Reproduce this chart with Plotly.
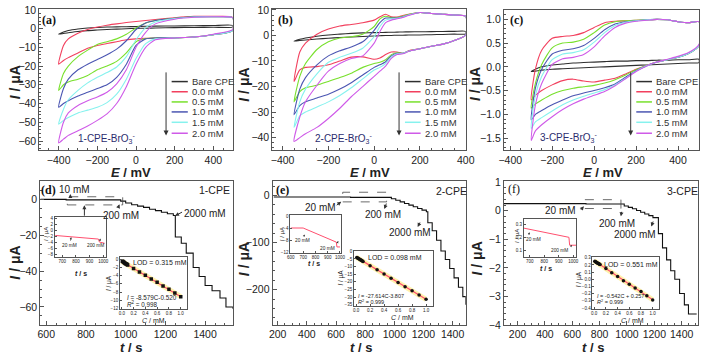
import plotly.graph_objects as go

W, H = 709, 359

# ---------------- (a) 1-CPE, cyclic voltammograms (E / mV, I / uA) ----------------
E_a = [-400, -375, -350, -300, -250, -200, -150, -100, -50, 0, 50, 100, 200, 300, 400, 500]
a_bare_up = [-3, -1.8, -1.0, -0.2, 0.3, 0.6, 0.8, 0.9, 1.0, 1.1, 1.2, 1.3, 1.4, 1.5, 1.6, 1.7]
a_bare_lo = [-3, -2.6, -2.2, -1.6, -1.1, -0.8, -0.5, -0.3, -0.1, 0.1, 0.2, 0.3, 0.5, 0.6, 0.7, 0.8]
a_00_up = [-19, -9, -5.5, -2.5, -0.5, 0.8, 1.8, 2.5, 3.2, 3.8, 4.3, 4.8, 5.8, 6.5, 6.5, 6.0]
a_00_lo = [-19, -17, -15.5, -13, -10.5, -9, -8, -7, -6, -5.5, -5.2, -5, -5, -4.5, -3.3, -1]
a_05_up = [-33, -24, -20, -15, -11.5, -8.5, -7, -5.5, -3, 0.3, 3, 4.3, 5.5, 6.3, 6.3, 5.8]
a_05_lo = [-33, -30, -28.5, -27, -25, -22, -20, -17.5, -13, -7, -5.3, -5, -5, -4.5, -3.3, -1]
a_10_up = [-42, -32, -27, -22, -19, -16.5, -14, -11, -6.5, -0.5, 3, 4.3, 5.5, 6.3, 6.3, 5.8]
a_10_lo = [-42, -40, -38.5, -36, -34, -32, -30, -26, -19, -9, -5.5, -5, -5, -4.5, -3.3, -1]
a_15_up = [-51, -43, -38, -33, -29, -26, -23.5, -20.5, -15, -6, 0.5, 3.5, 5.3, 6.2, 6.3, 5.8]
a_15_lo = [-51, -49, -47.5, -45, -43.5, -42, -39.5, -35, -27, -16, -8, -5.5, -5, -4.5, -3.3, -1]
a_20_up = [-61, -50, -45, -41, -38.5, -36.5, -34, -29.5, -22, -10, -2, 2.5, 5, 6, 6.3, 5.8]
a_20_lo = [-61, -59, -57, -54.5, -52, -49, -45.5, -40, -31, -19, -10, -6, -5, -4.5, -3, -0.5]

# ---------------- (b) 2-CPE ----------------
E_b = [-350, -325, -300, -250, -200, -150, -100, -50, 0, 25, 50, 75, 100, 125, 150, 200, 250, 300, 350, 400]
b_bare_up = [-2.2, -1.5, -1.0, -0.3, 0.2, 0.5, 0.8, 1.0, 1.1, 1.15, 1.2, 1.25, 1.3, 1.35, 1.4, 1.45, 1.5, 1.55, 1.6, 1.6]
b_bare_lo = [-2.2, -2.0, -1.8, -1.4, -1.1, -0.8, -0.6, -0.4, -0.2, -0.1, 0, 0, 0.1, 0.1, 0.15, 0.2, 0.3, 0.4, 0.5, 0.6]
b_00_up = [-18, -6.5, -3, 0.5, 2.5, 3.7, 4.3, 5, 6, 7.3, 8.3, 7.3, 7.2, 7.8, 8.3, 9, 8.6, 8.3, 8.0, 7.5]
b_00_lo = [-18, -13.5, -12.5, -12.2, -11.5, -10, -8.5, -8.4, -9.3, -8.8, -7.5, -6.5, -6.5, -7, -6, -5.2, -4.2, -3.4, -2, 0.2]
b_05_up = [-26, -16, -11, -5.5, -2.5, -1, -0.5, 0.5, 3.5, 6.5, 7.5, 7, 7, 7.5, 8.2, 9, 8.6, 8.3, 8.0, 7.5]
b_05_lo = [-26, -22, -20.5, -19.5, -18, -16.5, -14.8, -12.5, -11, -10.5, -9.5, -7.5, -6.8, -7, -6.2, -5.2, -4.2, -3.4, -2, 0.2]
b_10_up = [-31, -21, -16.5, -11.5, -8, -6, -4.5, -2.5, 2, 5, 6.8, 6.8, 6.8, 7.3, 8, 9, 8.6, 8.3, 8.0, 7.5]
b_10_lo = [-31, -27.5, -26, -24.5, -23, -21, -18.5, -15.5, -12.5, -11.5, -10.3, -8, -7, -7, -6.2, -5.2, -4.2, -3.4, -2, 0.2]
b_15_up = [-36, -26, -21, -15, -10.5, -8.5, -7, -5, -0.5, 3.5, 6, 6.5, 6.7, 7.2, 8, 9, 8.6, 8.3, 8.0, 7.5]
b_15_lo = [-36, -31.5, -30, -28, -26, -23.5, -20.5, -17, -13.5, -12.5, -11, -8.5, -7.2, -7, -6.2, -5.2, -4.2, -3.4, -2, 0.2]
b_20_up = [-41.5, -32, -26, -19.5, -14, -11, -9, -8, -3, 1.5, 5, 6, 6.5, 7, 7.8, 9, 8.6, 8.3, 8.0, 7.5]
b_20_lo = [-41.5, -40, -38.5, -36, -32.5, -28.5, -24, -20, -16, -14, -12, -9, -7.5, -7.2, -6.3, -5.2, -4.2, -3.4, -2, 0.2]

# ---------------- (c) 3-CPE ----------------
E_c = [-300, -280, -250, -200, -150, -100, -50, 0, 50, 100, 150, 200, 250, 300, 350, 400, 450, 500]
c_bare_up = [-0.1, -0.05, 0.0, 0.04, 0.06, 0.08, 0.09, 0.1, 0.11, 0.12, 0.12, 0.13, 0.13, 0.14, 0.14, 0.15, 0.15, 0.16]
c_bare_lo = [-0.1, -0.09, -0.07, -0.05, -0.04, -0.03, -0.02, -0.01, 0, 0.01, 0.02, 0.03, 0.04, 0.05, 0.06, 0.07, 0.08, 0.09]
c_00_up = [-0.7, -0.05, 0.35, 0.6, 0.64, 0.66, 0.72, 0.83, 0.93, 0.96, 0.97, 0.98, 0.99, 1.0, 0.99, 0.95, 0.93, 0.95]
c_00_lo = [-0.7, -0.6, -0.5, -0.38, -0.29, -0.26, -0.3, -0.32, -0.28, -0.24, -0.15, -0.05, 0.03, 0.1, 0.15, 0.2, 0.28, 0.45]
c_05_up = [-0.87, -0.35, 0.05, 0.4, 0.5, 0.52, 0.58, 0.72, 0.88, 0.95, 0.97, 0.98, 0.99, 1.0, 0.99, 0.95, 0.93, 0.95]
c_05_lo = [-0.87, -0.78, -0.7, -0.58, -0.5, -0.45, -0.42, -0.39, -0.34, -0.27, -0.17, -0.06, 0.03, 0.1, 0.15, 0.2, 0.28, 0.45]
c_10_up = [-1.12, -0.45, -0.05, 0.27, 0.35, 0.38, 0.45, 0.6, 0.78, 0.9, 0.95, 0.97, 0.99, 1.0, 0.99, 0.95, 0.93, 0.95]
c_10_lo = [-1.12, -1.0, -0.92, -0.8, -0.7, -0.61, -0.55, -0.5, -0.44, -0.36, -0.22, -0.08, 0.02, 0.1, 0.15, 0.2, 0.28, 0.45]
c_15_up = [-1.3, -0.6, -0.2, 0.15, 0.27, 0.3, 0.36, 0.52, 0.72, 0.87, 0.94, 0.97, 0.99, 1.0, 0.99, 0.95, 0.93, 0.95]
c_15_lo = [-1.3, -1.16, -1.07, -0.93, -0.8, -0.7, -0.62, -0.55, -0.48, -0.38, -0.24, -0.09, 0.02, 0.1, 0.15, 0.2, 0.28, 0.45]
c_20_up = [-1.55, -0.8, -0.35, 0.05, 0.17, 0.2, 0.26, 0.42, 0.65, 0.83, 0.92, 0.96, 0.98, 1.0, 0.99, 0.95, 0.93, 0.95]
c_20_lo = [-1.55, -1.35, -1.22, -1.05, -0.9, -0.78, -0.68, -0.6, -0.52, -0.4, -0.25, -0.1, 0.02, 0.1, 0.16, 0.22, 0.3, 0.47]

# ---------------- (d)-(f) amperometric i-t curves ----------------
t_d = [570, 700, 975, 1000, 1030, 1060, 1090, 1120, 1150, 1180, 1210, 1240, 1250, 1280, 1305, 1340, 1370, 1400, 1435, 1475, 1505, 1540]
i_d = [0, -0.3, -1, -2, -3, -3.8, -4.5, -5.5, -6.3, -7.2, -8, -9, -21, -24.5, -30, -38, -43, -48, -51, -55, -60, -61]
t_e = [173, 700, 980, 1010, 1040, 1070, 1100, 1130, 1160, 1190, 1220, 1230, 1260, 1290, 1320, 1350, 1380, 1410, 1440, 1470, 1490]
i_e = [-3, -4, -7, -10, -13.5, -17, -20.5, -24, -27.5, -31, -34.5, -58, -75, -95, -118, -136, -155, -175, -195, -215, -232]
t_f = [100, 700, 980, 1010, 1040, 1070, 1100, 1130, 1160, 1190, 1230, 1260, 1290, 1320, 1350, 1385, 1420, 1450, 1510]
i_f = [0.25, 0.24, 0.17, 0.12, 0.07, 0.01, -0.05, -0.11, -0.17, -0.24, -0.8, -1.3, -1.72, -2.1, -2.4, -2.9, -3.3, -3.62, -3.62]

# zoomed insets (t / s, I)
zt_d = [650, 965, 972, 1010]
zi_d = [-1.8, -3.0, -4.0, -4.4]
zt_e = [600, 700, 970, 975, 1000]
zi_e = [-4, -4, -8.7, -10.3, -10.3]
zt_f = [660, 970, 975, 1020]
zi_f = [0.27, 0.2, 0.14, 0.14]

# calibration insets (C / mM, I / uA)
conc = [0.01, 0.02, 0.03, 0.04, 0.05, 0.06, 0.07, 0.08, 0.09, 0.1, 0.2, 0.3, 0.4, 0.5, 0.6, 0.7, 0.8, 0.9, 1.0]
cal_d = [-0.55, -0.6, -0.7, -0.85, -0.95, -1.05, -1.1, -1.2, -1.3, -1.4, -2.3, -3.1, -3.9, -4.8, -5.6, -6.5, -7.3, -8.2, -9.1]
cal_e = [-4.1, -4.4, -4.6, -4.9, -5.2, -5.5, -5.7, -6.0, -6.3, -6.6, -9.4, -12.1, -14.9, -17.7, -20.4, -23.2, -25.9, -28.7, -31.4]
cal_f = [0.25, 0.245, 0.24, 0.235, 0.23, 0.225, 0.22, 0.215, 0.21, 0.205, 0.15, 0.09, 0.04, -0.02, -0.07, -0.12, -0.17, -0.23, -0.29]
fit_c = [0, 1.0]
fit_d = [-0.52, -9.1]
fit_e = [-3.81, -31.42]
fit_f = [0.257, -0.285]

labels = ["Bare CPE", "0.0 mM", "0.5 mM", "1.0 mM", "1.5 mM", "2.0 mM"]
colors = ["#2f2f2f", "#f2405e", "#78e02c", "#4b56b2", "#86f2ee", "#cf5ae8"]
FONT = "Liberation Sans, Arial"


def X(p):
    return p / W


def Y(p):
    return 1 - p / H


fig = go.Figure()

cv_sets = [
    ("x", "y", E_a, [(a_bare_up, a_bare_lo), (a_00_up, a_00_lo), (a_05_up, a_05_lo),
                     (a_10_up, a_10_lo), (a_15_up, a_15_lo), (a_20_up, a_20_lo)]),
    ("x2", "y2", E_b, [(b_bare_up, b_bare_lo), (b_00_up, b_00_lo), (b_05_up, b_05_lo),
                       (b_10_up, b_10_lo), (b_15_up, b_15_lo), (b_20_up, b_20_lo)]),
    ("x3", "y3", E_c, [(c_bare_up, c_bare_lo), (c_00_up, c_00_lo), (c_05_up, c_05_lo),
                       (c_10_up, c_10_lo), (c_15_up, c_15_lo), (c_20_up, c_20_lo)]),
]
for xa, ya, E, curves in cv_sets:
    for (up, lo), name, col in zip(curves, labels, colors):
        fig.add_trace(go.Scatter(x=E + E[::-1], y=up + lo[::-1], mode="lines", name=name,
                                 line=dict(color=col, width=1.1, shape="spline", smoothing=0.6),
                                 xaxis=xa, yaxis=ya, showlegend=False))

for xa, ya, t, i in [("x4", "y4", t_d, i_d), ("x5", "y5", t_e, i_e), ("x6", "y6", t_f, i_f)]:
    fig.add_trace(go.Scatter(x=t, y=i, mode="lines", line=dict(color="#111", width=1.1, shape="hv"),
                             xaxis=xa, yaxis=ya, showlegend=False))

for xa, ya, t, i in [("x7", "y7", zt_d, zi_d), ("x9", "y9", zt_e, zi_e), ("x11", "y11", zt_f, zi_f)]:
    fig.add_trace(go.Scatter(x=t, y=i, mode="lines", line=dict(color="#ff4f6e", width=1),
                             xaxis=xa, yaxis=ya, showlegend=False))

for xa, ya, cal, fit, sym in [("x8", "y8", cal_d, fit_d, "square"), ("x10", "y10", cal_e, fit_e, "circle"),
                              ("x12", "y12", cal_f, fit_f, "circle")]:
    fig.add_trace(go.Scatter(x=fit_c, y=fit, mode="lines", line=dict(color="rgba(255,238,150,0.8)", width=5),
                             xaxis=xa, yaxis=ya, showlegend=False))
    fig.add_trace(go.Scatter(x=fit_c, y=fit, mode="lines", line=dict(color="#ff4f6e", width=1.2),
                             xaxis=xa, yaxis=ya, showlegend=False))
    fig.add_trace(go.Scatter(x=conc, y=cal, mode="markers", marker=dict(symbol=sym, size=3.5, color="#111"),
                             xaxis=xa, yaxis=ya, showlegend=False))

# axis boxes: (x px range, y px range, x range, y range, x dtick, y dtick, font, x fmt, y fmt)
boxes = [
    ((35, 232.3), (4, 150), [-500, 500], [-65, 10.5], 200, 10, 10.5, "", ""),
    ((272.7, 470), (4, 150), [-445, 400], [-45, 10.4], 200, 10, 10.5, "", ""),
    ((509, 708), (5, 150), [-430, 500], [-1.76, 1.2], 200, 0.5, 10.5, "", ".1f"),
    ((36, 232.5), (182, 330), [570, 1540], [-70, 10], 200, 20, 10.5, "", ""),
    ((273, 470), (182, 330), [165, 1490], [-275, 30], 200, 100, 10.5, "", ""),
    ((509, 707), (182, 330), [100, 1520], [-4, 1.03], 200, 1, 10.5, "", ""),
    ((50.7, 103), (218.3, 260), [645, 1020], [-9, 4.5], 100, 2, 4.5, "", ""),
    ((117.3, 185.3), (260, 313.3), [-0.03, 1.1], [-12, 0.5], 0.2, 2, 4.5, ".1f", ""),
    ((291, 343), (216.7, 255.5), [595, 1010], [-12.2, 0.3], 100, 4, 4.5, "", ""),
    ((356, 436.7), (253.3, 310), [-0.03, 1.1], [-35.5, 0.5], 0.2, 5, 4.5, ".1f", ""),
    ((529.3, 582.7), (220.7, 260), [660, 1020], [0.05, 0.34], 100, 0.1, 4.5, "", ".1f"),
    ((599.3, 666.7), (260, 313.3), [-0.03, 1.1], [-0.41, 0.31], 0.2, 0.1, 4.5, ".1f", ".1f"),
]
layout = {}
for n, (bx, by, xr, yr, xdt, ydt, fs, xf, yf) in enumerate(boxes, start=1):
    sfx = "" if n == 1 else str(n)
    small = fs < 8
    common = dict(showline=True, mirror=True, linecolor="#555", linewidth=1 if not small else 0.8,
                  ticks="inside", ticklen=2 if small else 4, tickcolor="#555", tickwidth=1 if not small else 0.6,
                  showgrid=False, zeroline=False, tickangle=0,
                  tickfont=dict(size=fs, family=FONT, color="#222"))
    if not small:
        common["minor"] = dict(ticks="inside", ticklen=2, tickcolor="#555")
    layout["xaxis" + sfx] = dict(domain=[X(bx[0]), X(bx[1])], range=xr, dtick=xdt, tick0=0,
                                 tickformat=xf, anchor="y" + sfx, **common)
    layout["yaxis" + sfx] = dict(domain=[Y(by[1]), Y(by[0])], range=yr, dtick=ydt, tick0=0,
                                 tickformat=yf, anchor="x" + sfx, **common)
fig.update_layout(**layout)


def ann(x, y, text, size=11, color="#222", anchor="center", angle=0, family=FONT):
    return dict(xref="paper", yref="paper", x=X(x), y=Y(y), text=text, showarrow=False,
                xanchor=anchor, yanchor="middle", textangle=angle,
                font=dict(size=size, color=color, family=family))


def arrow(hx, hy, tx, ty, width=1, size=0.8):
    # head at (hx, hy), tail at (tx, ty), both in page pixels
    return dict(xref="paper", yref="paper", x=X(hx), y=Y(hy), axref="pixel", ayref="pixel",
                ax=tx - hx, ay=ty - hy, text="", showarrow=True, arrowhead=2, arrowsize=size,
                arrowwidth=width, arrowcolor="#333")


annotations = []
shapes = []

# CV panels: letters, titles, in-plot legend
rows = [79, 89.5, 100, 110.3, 121, 132.3]
cv_deco = [
    ("(a)", 45, 15, "1", 104, 138, 129, 172.5, 10, 80, 164.3, 170, 186.5, 189),
    ("(b)", 286, 15, "2", 345, 138, 372, 172.5, 244, 82, 402, 408, 424, 426),
    ("(c)", 522, 15, "3", 575, 137, 610, 173, 480, 82, 638.3, 644, 660, 662),
]
for lab, lx, ly, num, cx, cy, ex, ey, ix, iy, arx, l0, l1, tx in cv_deco:
    annotations.append(ann(lx, ly, "<b>%s</b>" % lab, 12, "#111", family="Liberation Serif"))
    annotations.append(ann(cx, cy, "%s-CPE-BrO<sub>3</sub><sup>-</sup>" % num, 10, "#2b2d6e"))
    annotations.append(ann(ex, ey, "<b><i>E</i> / mV</b>", 13, "#222"))
    annotations.append(ann(ix, iy, "<b><i>I</i> / μA</b>", 14, "#222", angle=-90))
    annotations.append(arrow(arx, 134.5, arx, 70, width=1, size=1))
    for r, name, col in zip(rows, labels, colors):
        shapes.append(dict(type="line", xref="paper", yref="paper", x0=X(l0), x1=X(l1), y0=Y(r), y1=Y(r),
                           line=dict(color=col, width=1.5)))
        annotations.append(ann(tx, r, name, 9.5, "#333", anchor="left"))

# i-t panels
it_deco = [
    ("<b>(d)</b>", 44, 191, "1-CPE", 214, 191, 129, 353, 10, 266),
    ("<b>(e)</b>", 283, 191, "2-CPE", 455, 192, 363, 353, 244, 262),
    ("(f)", 519, 190, "3-CPE", 691, 192, 600, 353, 481, 262),
]
for lab, lx, ly, cpe, cx, cy, tx, ty, ix, iy in it_deco:
    annotations.append(ann(lx, ly, lab, 12, "#111", family="Liberation Serif"))
    annotations.append(ann(cx, cy, cpe, 10.5, "#222"))
    annotations.append(ann(tx, ty, "<b><i>t</i> / s</b>", 13, "#222"))
    annotations.append(ann(ix, iy, "<b><i>I</i> / μA</b>", 14, "#222", angle=-90))

# dashed zoom boxes in data coordinates
for xa, ya, x0, x1, y0, y1 in [("x4", "y4", 706, 985, -3.1, 1.45), ("x5", "y5", 646, 947, -13.5, 7),
                               ("x6", "y6", 692, 956, 0.08, 0.39)]:
    shapes.append(dict(type="rect", xref=xa, yref=ya, x0=x0, x1=x1, y0=y0, y1=y1,
                       line=dict(color="#444", width=0.8, dash="dash")))

# concentration call-outs on main i-t panels
annotations += [
    ann(71, 190, "10 mM", 10), arrow(66.7, 195, 66.7, 200),
    arrow(81, 206.5, 81, 218.5),
    ann(118, 217.5, "200 mM", 10), arrow(116.7, 205.5, 115, 210.5),
    ann(204, 215, "2000 mM", 10), arrow(173.5, 217.5, 182, 213),
    ann(322, 208.5, "20 mM", 10), arrow(343, 203, 337, 207.5),
    ann(386, 216.5, "200 mM", 10), arrow(387, 210.5, 389.5, 203.5),
    ann(413, 235, "2000 mM", 10), arrow(421, 229, 424, 223),
    ann(567, 212, "20 mM", 10), arrow(590.5, 207.5, 586.5, 212.5),
    ann(624, 225, "200 mM", 10), arrow(628.3, 218, 629.3, 212),
    ann(643, 237, "2000 mM", 10), arrow(659.3, 228.5, 661.7, 222),
]

# inset texts
annotations += [
    ann(42, 236, "<i>I</i> / μA", 6, angle=-90), ann(78, 277, "<b><i>t</i> / s</b>", 7),
    ann(66, 248.5, "20 mM", 4.8), arrow(67.5, 239.5, 66.5, 244.5, width=0.7, size=0.6),
    ann(92, 248.5, "200 mM", 4.8), arrow(97.5, 241, 96, 244.5, width=0.7, size=0.6),
    ann(106, 287, "<i>I</i> / μA", 6.5, angle=-90), ann(152, 325, "<i>C</i> / mM", 7),
    ann(158, 265.5, "LOD = 0.315 mM", 7), ann(122, 301.5, "<i>I</i> = -8.579C-0.520", 6.3, anchor="left"),
    ann(122, 308, "<i>R</i><sup>2</sup> = 0.998", 6.3, anchor="left"),

    ann(282, 236, "<i>I</i> / μA", 6, angle=-90), ann(315, 267, "<b><i>t</i> / s</b>", 7),
    ann(303, 242.5, "20 mM", 4.8), arrow(305.7, 236.7, 304.3, 239.8, width=0.7, size=0.6),
    ann(329, 251, "20 mM", 4.8), arrow(340, 243.5, 338.3, 246.7, width=0.7, size=0.6),
    ann(343, 281, "<i>I</i> / μA", 6.5, angle=-90), ann(405, 322, "<i>C</i> / mM", 7),
    ann(398, 260.7, "LOD = 0.098 mM", 7), ann(358, 300.7, "<i>I</i> = -27.614C-3.807", 5.5, anchor="left"),
    ann(358, 306.3, "<i>R</i><sup>2</sup> = 0.999", 5.5, anchor="left"),

    ann(522.5, 238, "<i>I</i> / μA", 6, angle=-90), ann(552, 271.5, "<b><i>t</i> / s</b>", 7),
    ann(539, 241.7, "20 mM", 4.8), arrow(535, 234.5, 534, 238.3, width=0.7, size=0.6),
    ann(566, 253.3, "200 mM", 4.8), arrow(578.3, 247.5, 576.5, 250, width=0.7, size=0.6),
    ann(585.5, 283, "<i>I</i> / μA", 6.5, angle=-90), ann(640, 325, "<i>C</i> / mM", 7),
    ann(639, 267.3, "LOD = 0.551 mM", 7), ann(602, 300.7, "<i>I</i> = -0.542C + 0.257", 5.5, anchor="left"),
    ann(602, 306.3, "<i>R</i><sup>2</sup> = 0.999", 5.5, anchor="left"),
]

fig.update_layout(width=W, height=H, autosize=False, margin=dict(l=0, r=0, t=0, b=0),
                  paper_bgcolor="white", plot_bgcolor="white", showlegend=False,
                  font=dict(family=FONT, color="#222"),
                  annotations=annotations, shapes=shapes)
# drop the browser's default 8px body margin so the figure sits at the page corner
fig.write_html("out.html", config={"displayModeBar": False},
               post_script="document.body.style.margin='0';")
